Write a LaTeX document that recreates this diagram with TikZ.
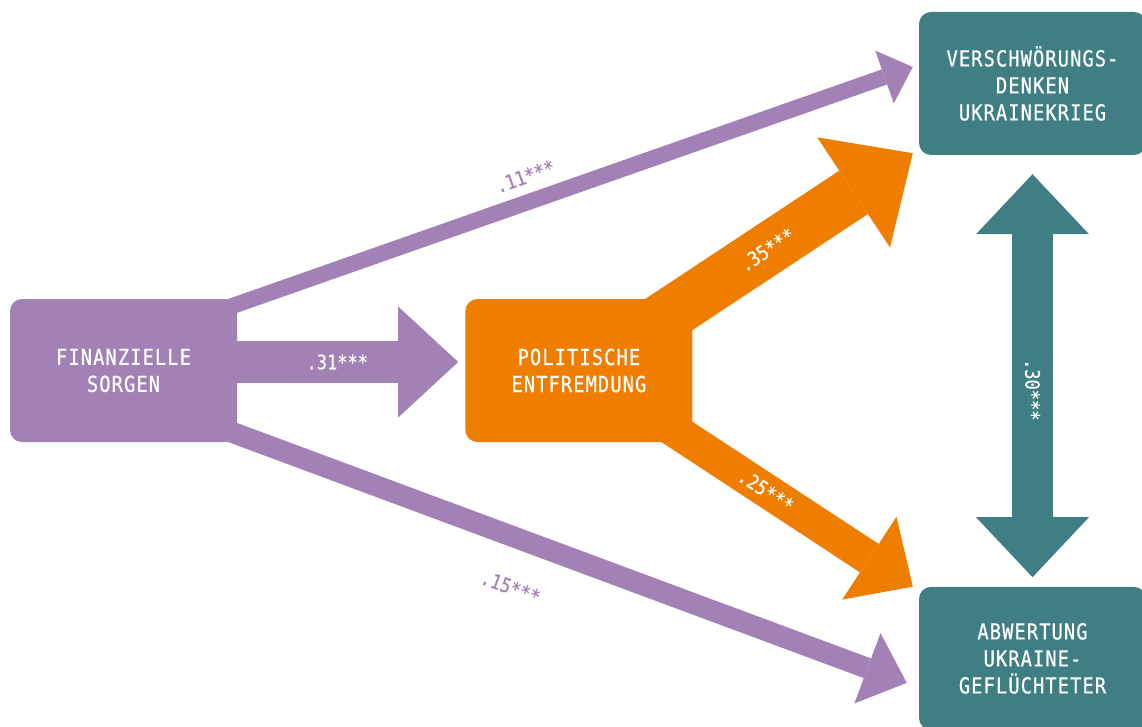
\documentclass[tikz,border=0pt]{standalone}
\usepackage{fontspec}
\usepackage{xcolor}
\usetikzlibrary{positioning,arrows.meta,calc,backgrounds}
\newfontfamily\boxfont{DejaVu Sans Mono}[FakeStretch=0.85,LetterSpace=5,FakeBold=0.6]
\newfontfamily\coeffont{DejaVu Sans Mono}[FakeStretch=0.85,FakeBold=0.4]
\definecolor{lila}{HTML}{A281B6}
\definecolor{orangeton}{HTML}{EF7D00}
\definecolor{petrol}{HTML}{3F7F84}
\tikzset{
box/.style={
  rectangle,
  rounded corners=12pt,
  minimum width=227pt,
  minimum height=143pt,
  inner sep=0pt,
  align=center,
  text=white,
  font=\boxfont\fontsize{22}{27}\selectfont
  },
coef/.style={
  font=\coeffont\fontsize{20}{24}\selectfont,
  inner sep=2pt
  },
pfeil/.style n args={4}{
  draw=#1,
  line width=#2,
  >={Triangle[length=#3,width=#4,line width=0pt]},
  ->
  }
}

\begin{document}
\begin{tikzpicture}[x=1pt,y=-1pt]
\useasboundingbox (0,0) rectangle (1142,727);
\node[box, fill=lila] (fin) at (123.5,370.5) {FINANZIELLE\\SORGEN};
\node[box, fill=orangeton, right=228pt of fin] (pol) {POLITISCHE\\ENTFREMDUNG};
\node[box, fill=petrol] (vsd) at (1032.5,83.5) {VERSCHWÖRUNGS-\\DENKEN\\UKRAINEKRIEG};
\node[box, fill=petrol, below=431.5pt of vsd] (agf) {ABWERTUNG\\UKRAINE-\\GEFLÜCHTETER};
\coordinate (fp) at ([shift={(-7pt,8.5pt)}]pol.west);
\coordinate (fv) at ([shift={(-6pt,16.5pt)}]vsd.west);
\coordinate (fa) at ([shift={(-12pt,-24.5pt)}]agf.west);
\coordinate (pv) at ([shift={(-6pt,2pt)}]vsd.south west);
\coordinate (pa) at ([shift={(-6pt,0pt)}]agf.north west);
\coordinate (vo) at ([yshift=-19pt]vsd.south);
\coordinate (au) at ([yshift=9.5pt]agf.north);
\begin{scope}[on background layer]
\draw[pfeil={lila}{42pt}{60pt}{111pt}] ([shift={(-5pt,8.5pt)}]fin.east) -- node[coef, text=white, pos=0.465] {.31***} (fp);
\draw[pfeil={lila}{16pt}{30pt}{56pt}] ($([yshift=-5.5pt]fin.north east)!-15pt!(fv)$) -- node[coef, text=lila, sloped, above=8pt, pos=0.45] {.11***} (fv);
\draw[pfeil={lila}{21pt}{42pt}{75pt}] ($([yshift=8pt]fin.south east)!-15pt!(fa)$) -- node[coef, text=lila, sloped, below=28pt, pos=0.445] {.15***} (fa);
\draw[pfeil={orangeton}{52pt}{71pt}{132pt}] ($(pol.north east)!-60pt!(pv)$) -- node[coef, text=white, sloped, pos=0.46] {.35***} (pv);
\draw[pfeil={orangeton}{34pt}{52pt}{99pt}] ($(pol.south east)!-50pt!(pa)$) -- node[coef, text=white, sloped, pos=0.44] {.25***} (pa);
\draw[pfeil={petrol}{41pt}{60pt}{113pt}, <->] (vo) -- node[coef, text=white, rotate=-90, pos=0.535] {.30***} (au);
\end{scope}
\end{tikzpicture}
\end{document}
